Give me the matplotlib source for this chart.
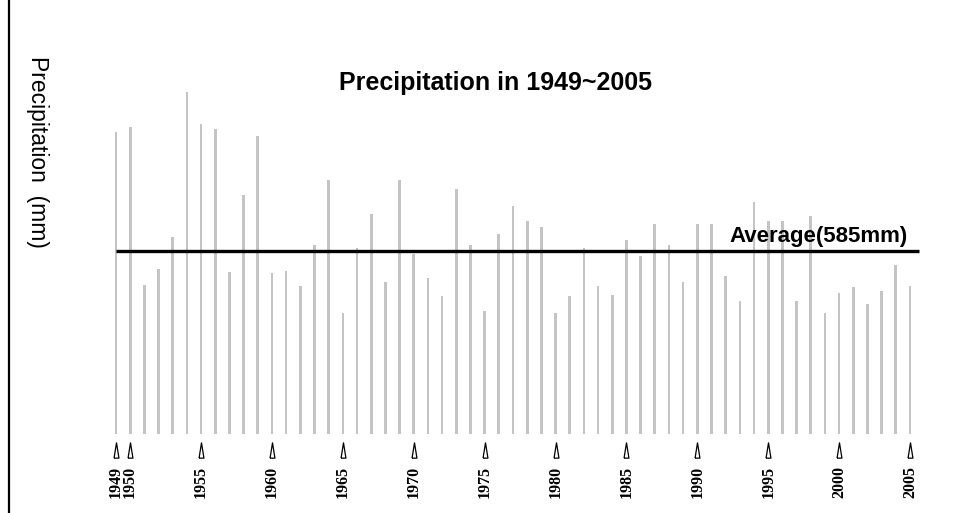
import matplotlib
matplotlib.use("Agg")
import matplotlib.pyplot as plt
import matplotlib.transforms as mtransforms
from matplotlib.lines import Line2D

# yearly precipitation (mm)
years = list(range(1949, 2006))
precip = [969, 982, 478, 528, 631, 1094, 993, 976, 519, 767,
          955, 517, 521, 475, 606, 815, 388, 596, 706, 487,
          815, 578, 500, 441, 786, 606, 393, 642, 729, 681,
          664, 389, 441, 596, 473, 446, 622, 571, 674, 606,
          486, 674, 674, 507, 427, 743, 683, 683, 425, 699,
          389, 453, 470, 417, 459, 542, 475]
average = 585
tick_years = [1949, 1950, 1955, 1960, 1965, 1970, 1975, 1980,
              1985, 1990, 1995, 2000, 2005]

W, H = 957, 513
fig = plt.figure(figsize=(W / 100, H / 100), dpi=100)

# axes placed in pixel terms: 1949 at x=116, 2005 at x=910, baseline at y=434
px_per_year = (910 - 116) / 56
x0 = 1949 - (116 - 100) / px_per_year
x1 = 2005 + (930 - 910) / px_per_year
ax = fig.add_axes([100 / W, (H - 434) / H, 830 / W, 374.6 / H])
ax.set_xlim(x0, x1)
ax.set_ylim(0, 1200)

ax.bar(years, precip, width=0.19, color="#c4c4c4", zorder=1)
ax.hlines(average, 1949, 2005.6, color="black", lw=2.4, zorder=3)
ax.text(2004.85, average + 30, "Average(585mm)", ha="right", va="baseline",
        fontsize=16, fontweight="bold", family="Liberation Sans", zorder=4)

for s in ax.spines.values():
    s.set_visible(False)
ax.set_yticks([])
ax.set_xticks(tick_years)
ax.set_xticklabels([str(y) for y in tick_years], rotation=90,
                   family="Liberation Serif", fontweight="bold", fontsize=11.5)
ax.tick_params(axis="x", length=0, pad=23)

# narrow open triangles under each labelled year
trans = mtransforms.blended_transform_factory(ax.transData, ax.transAxes)
tri = [(-1.6, -5), (1.6, -5), (0, 5), (-1.6, -5)]
ax.plot(tick_years, [-0.0414] * len(tick_years), ls="none", marker=tri,
        markersize=11, markerfacecolor="white", markeredgecolor="black",
        markeredgewidth=0.9, transform=trans, clip_on=False)

fig.text(0.5 * (338 + 652) / W, 1 - 83 / H, "Precipitation in 1949~2005",
         ha="center", va="center", fontsize=18, fontweight="bold",
         family="Liberation Sans")
fig.text(37 / W, 1 - 151.5 / H, "Precipitation  (mm)", rotation=-90,
         ha="center", va="center", fontsize=16.5, family="Liberation Sans")

fig.add_artist(Line2D([8.5 / W, 8.5 / W], [0, 1], color="black", lw=1.6))

fig.savefig("out.png", dpi=100)
